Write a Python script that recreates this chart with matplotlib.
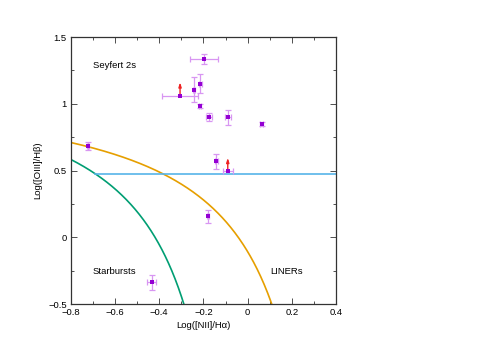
import numpy as np
import matplotlib
matplotlib.use("Agg")
import matplotlib.pyplot as plt

plt.rcParams['font.family'] = ['Liberation Sans', 'DejaVu Sans']

# data points (log NII/Ha, log OIII/Hb) with errors
x_vals = [-0.199, -0.243, -0.214, -0.214, -0.174, -0.090, 0.063, -0.722, -0.141, -0.180, -0.434]
y_vals = [1.335, 1.104, 1.151, 0.983, 0.903, 0.898, 0.848, 0.685, 0.568, 0.156, -0.338]
x_errs = [0.064, 0.006, 0.006, 0.004, 0.014, 0.014, 0.006, 0.004, 0.008, 0.006, 0.021]
y_errs = [0.038, 0.093, 0.071, 0.012, 0.030, 0.054, 0.012, 0.030, 0.053, 0.050, 0.055]

# lower limits (points with red arrows)
lim_x = [-0.306, -0.090]
lim_y = [1.061, 0.500]
lim_xerr = [0.083, 0.023]
lim_len = [0.10, 0.095]

# demarcation lines
kauff = (0.61, 0.05, 1.30)   # Kauffmann et al. 2003
kewley = (0.61, 0.47, 1.19)  # Kewley et al. 2001
seyfert_cut = 0.475

fig = plt.figure(figsize=(5.03, 3.56), dpi=100)
ax = fig.add_axes([0.141, 0.146, 0.527, 0.750])

xg = np.linspace(-0.8, 0.04, 400)
yg = kauff[0] / (xg - kauff[1]) + kauff[2]
ax.plot(xg, yg, color='#009e73', lw=1.2, zorder=2)

xo = np.linspace(-0.8, 0.46, 400)
yo = kewley[0] / (xo - kewley[1]) + kewley[2]
ax.plot(xo, yo, color='#e69f00', lw=1.2, zorder=2)

x_start = kauff[0] / (seyfert_cut - kauff[2]) + kauff[1]
ax.plot([x_start, 0.4], [seyfert_cut, seyfert_cut], color='#56b4e9', lw=1.2, zorder=2)

ax.errorbar(x_vals, y_vals, xerr=x_errs, yerr=y_errs, fmt='none',
            ecolor='#d896f2', elinewidth=0.9, capsize=2, capthick=0.9, zorder=3)
ax.errorbar(lim_x, lim_y, xerr=lim_xerr, fmt='none',
            ecolor='#d896f2', elinewidth=0.9, capsize=2, capthick=0.9, zorder=3)
for lx, ly, ll in zip(lim_x, lim_y, lim_len):
    ax.annotate('', xy=(lx, ly + ll), xytext=(lx, ly),
                arrowprops=dict(arrowstyle='-|>,head_length=0.25,head_width=0.08',
                                color='#ee2222', lw=1.0, shrinkA=0, shrinkB=0), zorder=4)
ax.plot(x_vals + lim_x, y_vals + lim_y, 's', color='#9400d3', ms=3, mew=0, zorder=5)

ax.text(-0.70, 1.29, 'Seyfert 2s', fontsize=6.8, va='center', ha='left')
ax.text(-0.70, -0.257, 'Starbursts', fontsize=6.8, va='center', ha='left')
ax.text(0.102, -0.257, 'LINERs', fontsize=6.8, va='center', ha='left')

ax.set_xlim(-0.8, 0.4)
ax.set_ylim(-0.5, 1.5)
ax.set_xticks([-0.8, -0.6, -0.4, -0.2, 0, 0.2, 0.4])
ax.set_xticklabels(['\u22120.8', '\u22120.6', '\u22120.4', '\u22120.2', '0', '0.2', '0.4'])
ax.set_yticks([-0.5, 0, 0.5, 1, 1.5])
ax.set_yticklabels(['\u22120.5', '0', '0.5', '1', '1.5'])
ax.set_xticks(np.arange(-0.8, 0.41, 0.1), minor=True)
ax.set_yticks(np.arange(-0.5, 1.51, 0.25), minor=True)
ax.tick_params(which='both', direction='in', top=True, right=True, labelsize=6.8,
               width=0.6, color='#333333', pad=3)
ax.tick_params(which='major', length=4)
ax.tick_params(which='minor', length=2.5)
for s in ax.spines.values():
    s.set_linewidth(0.9)
    s.set_color('#333333')

ax.set_xlabel('Log([NII]/H\u03b1)', fontsize=6.8, labelpad=3)
ax.set_ylabel('Log([OIII]/H\u03b2)', fontsize=6.8, labelpad=4)

fig.savefig('out.png', dpi=100)
